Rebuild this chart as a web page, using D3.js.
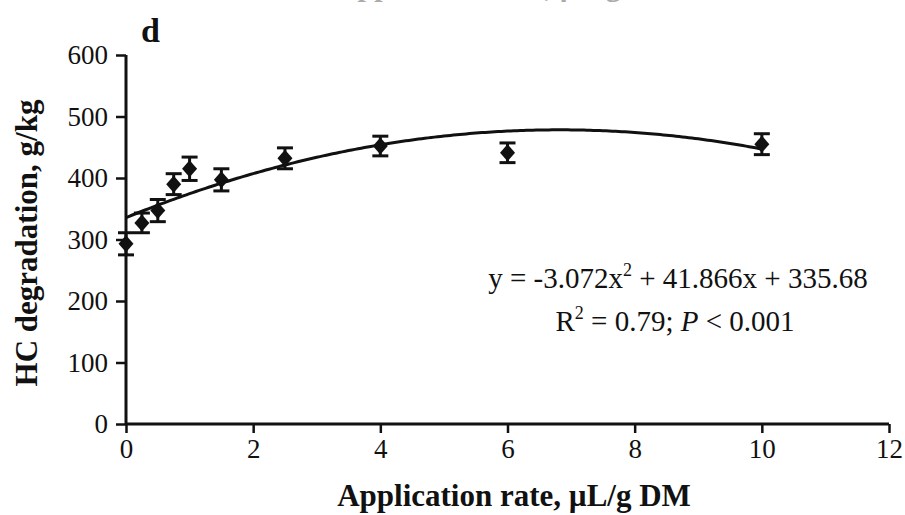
<!DOCTYPE html>
<html>
<head>
<meta charset="utf-8">
<script src="https://cdn.jsdelivr.net/npm/d3@7/dist/d3.min.js"></script>
<style>
  html, body { margin: 0; padding: 0; background: #fff; }
  svg { display: block; }
  text { font-family: "Liberation Serif", "Times New Roman", serif; fill: #111; }
</style>
</head>
<body>
<svg id="chart" width="905" height="515"></svg>
<script>
// Application rate (µL/g DM) and mean hemicellulose degradation (g/kg) with SE
const rates = [0, 0.25, 0.5, 0.75, 1, 1.5, 2.5, 4, 6, 10];
const hcDegradation = [293, 327, 347, 390, 415, 397, 432, 452, 441, 455];
const stdErr = [18, 16, 18, 17, 19, 18, 17, 16, 16, 17];

// Quadratic fit: y = a x^2 + b x + c
const fitCoef = [-3.072, 41.866, 335.68];
const fitRange = [0, 10];

const xTicks = [0, 2, 4, 6, 8, 10, 12];
const yTicks = [0, 100, 200, 300, 400, 500, 600];

const svg = d3.select("#chart");
const x = d3.scaleLinear().domain([0, 12]).range([126, 889]);
const y = d3.scaleLinear().domain([0, 600]).range([424, 55]);

// Title of the panel above, clipped by the top edge
svg.append("text")
  .attr("x", 507).attr("y", -4)
  .attr("text-anchor", "middle")
  .style("font-weight", "bold").style("font-size", "30px")
  .style("fill", "#aaa")
  .text("Application rate, µL/g DM");

// Axes
const xAxis = svg.append("g")
  .attr("transform", `translate(0,${y(0)})`)
  .call(d3.axisBottom(x).tickValues(xTicks).tickSize(9).tickPadding(6).tickFormat(d3.format("d")));
const yAxis = svg.append("g")
  .attr("transform", `translate(${x(0)},0)`)
  .call(d3.axisLeft(y).tickValues(yTicks).tickSize(10).tickPadding(8).tickFormat(d3.format("d")));

[xAxis, yAxis].forEach(g => {
  g.select(".domain").attr("stroke", "#111").attr("stroke-width", 3);
  g.selectAll(".tick line").attr("stroke", "#111").attr("stroke-width", 2.5);
  g.selectAll(".tick text")
    .style("font-family", '"Liberation Serif", serif')
    .style("font-size", "27px").attr("fill", "#222");
});
// axis lines meet without end caps
xAxis.select(".domain").attr("d", `M${x(0)},0H${x(12)}`);
yAxis.select(".domain").attr("d", `M0,${y(600)}V${y(0)}`);

// Axis titles
svg.append("text")
  .attr("x", 514).attr("y", 506)
  .attr("text-anchor", "middle")
  .style("font-weight", "bold").style("font-size", "31px")
  .text("Application rate, µL/g DM");

svg.append("text")
  .attr("transform", "translate(37,243) rotate(-90)")
  .attr("text-anchor", "middle")
  .style("font-weight", "bold").style("font-size", "31px")
  .text("HC degradation, g/kg");

// Panel letter
svg.append("text")
  .attr("x", 141).attr("y", 42)
  .style("font-weight", "bold").style("font-size", "34px")
  .text("d");

// Fitted curve
const fit = v => fitCoef[0] * v * v + fitCoef[1] * v + fitCoef[2];
const curveX = d3.range(fitRange[0], fitRange[1] + 0.001, 0.05);
svg.append("path")
  .datum(curveX)
  .attr("fill", "none").attr("stroke", "#111").attr("stroke-width", 3)
  .attr("d", d3.line().x(d => x(d)).y(d => y(fit(d))));

// Error bars
const pts = rates.map((r, i) => ({ r, v: hcDegradation[i], e: stdErr[i] }));
const capW = 8;
const eb = svg.append("g").attr("stroke", "#111").attr("stroke-width", 3);
eb.selectAll("line.v").data(pts).join("line").attr("class", "v")
  .attr("x1", d => x(d.r)).attr("x2", d => x(d.r))
  .attr("y1", d => y(d.v - d.e)).attr("y2", d => y(d.v + d.e));
eb.selectAll("line.top").data(pts).join("line").attr("class", "top")
  .attr("x1", d => x(d.r) - capW).attr("x2", d => x(d.r) + capW)
  .attr("y1", d => y(d.v + d.e)).attr("y2", d => y(d.v + d.e));
eb.selectAll("line.bot").data(pts).join("line").attr("class", "bot")
  .attr("x1", d => x(d.r) - capW).attr("x2", d => x(d.r) + capW)
  .attr("y1", d => y(d.v - d.e)).attr("y2", d => y(d.v - d.e));

// Diamond markers
const diamond = {
  draw(ctx, size) {
    const w = 7.5, h = 8.5;
    ctx.moveTo(0, -h); ctx.lineTo(w, 0); ctx.lineTo(0, h); ctx.lineTo(-w, 0); ctx.closePath();
  }
};
svg.append("g").selectAll("path").data(pts).join("path")
  .attr("transform", d => `translate(${x(d.r)},${y(d.v)})`)
  .attr("d", d3.symbol().type(diamond)())
  .attr("fill", "#111");

// Regression equation
const eq = svg.append("text")
  .attr("x", 678).attr("y", 288)
  .attr("text-anchor", "middle")
  .style("font-size", "29px");
eq.append("tspan").text("y = -3.072x");
eq.append("tspan").attr("dy", -12).style("font-size", "18px").text("2");
eq.append("tspan").attr("dy", 12).text(" + 41.866x + 335.68");

const r2 = svg.append("text")
  .attr("x", 675).attr("y", 331)
  .attr("text-anchor", "middle")
  .style("font-size", "29px");
r2.append("tspan").text("R");
r2.append("tspan").attr("dy", -12).style("font-size", "18px").text("2");
r2.append("tspan").attr("dy", 12).text(" = 0.79; ");
r2.append("tspan").style("font-style", "italic").text("P");
r2.append("tspan").text(" < 0.001");
</script>
</body>
</html>
